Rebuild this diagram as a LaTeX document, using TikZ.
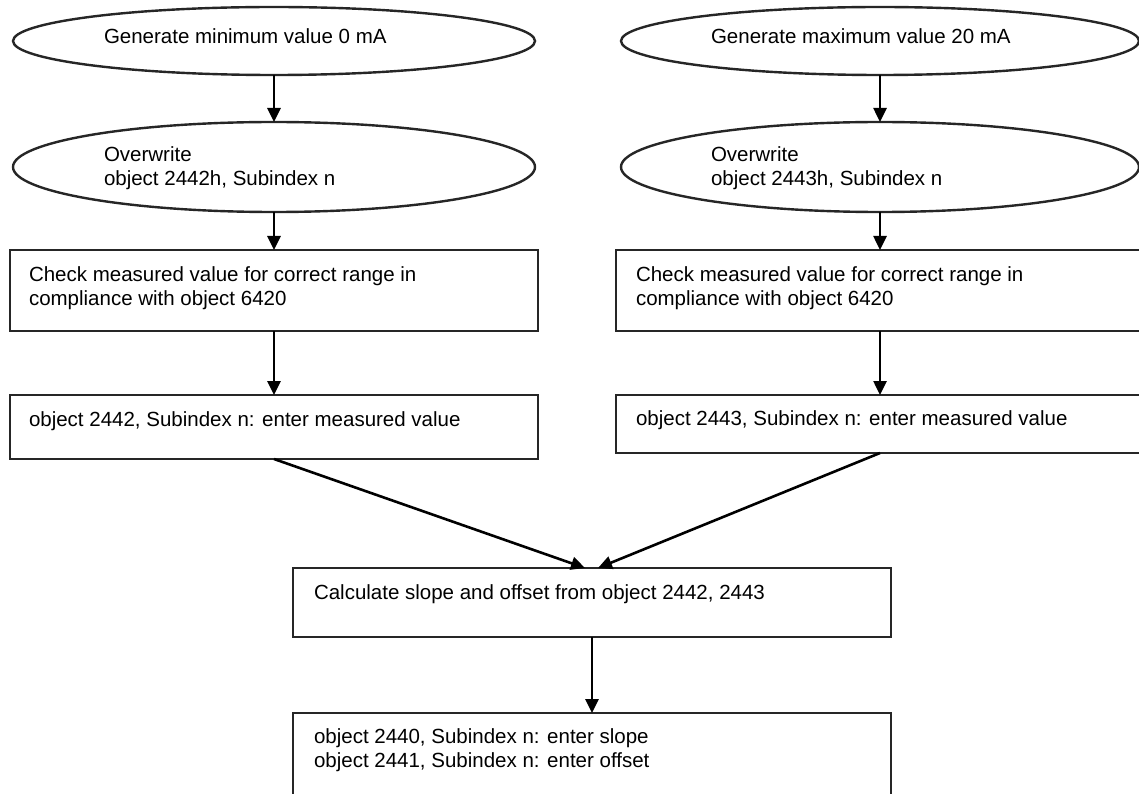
\documentclass[tikz,border=0pt]{standalone}
\usepackage{fontspec}
\setmainfont{Liberation Sans}
\usetikzlibrary{shapes.geometric,arrows.meta,calc}
\begin{document}
\begin{tikzpicture}[x=1pt,y=-1pt,
  shapebox/.style={draw=black!85,line width=2.4pt,rectangle,inner sep=0pt,outer sep=0pt},
  oval/.style={draw=black!85,line width=2.4pt,ellipse,inner sep=0pt,outer sep=0pt},
  txt/.style={inner sep=0pt,outer sep=0pt,anchor=base west,align=left,
    font=\fontsize{20.5}{24}\selectfont,text=black},
  flow/.style={line width=2.6pt,black,-{Triangle[length=14pt,width=13pt]}}]
\useasboundingbox (0,0) rectangle (1139,794);
\clip (0,0) rectangle (1139,794);
\fill[white] (0,0) rectangle (1139,794);
% left column
\node[oval,minimum width=522pt,minimum height=68pt] (e1) at (274,41) {};
\node[oval,minimum width=522pt,minimum height=90pt] (e2) at (274,167) {};
\node[shapebox,minimum width=528pt,minimum height=81pt] (r1) at (274,290.5) {};
\node[shapebox,minimum width=528pt,minimum height=64pt] (r2) at (274,427) {};
% right column
\node[oval,minimum width=518pt,minimum height=68pt] (e3) at (880,41) {};
\node[oval,minimum width=518pt,minimum height=90pt] (e4) at (880,167) {};
\node[shapebox,minimum width=528pt,minimum height=81pt] (r3) at (880,290.5) {};
\node[shapebox,minimum width=528pt,minimum height=58pt] (r4) at (880,424) {};
% bottom
\node[shapebox,minimum width=598pt,minimum height=69pt] (c) at (592,602.5) {};
\node[shapebox,minimum width=598pt,minimum height=117pt] (b) at (592,771.5) {};
% texts (base = baseline of last line)
\node[txt] (t1) at (104,44) {Generate minimum value 0 mA};
\node[txt] (t2) at (104,186) {Overwrite\\object 2442h, Subindex n};
\node[txt] (t3) at (29,305) {Check measured value for correct range in\\compliance with object 6420};
\node[txt] (t4) at (29,426) {object 2442, Subindex n: enter measured value};
\node[txt] (t5) at (711,44) {Generate maximum value 20 mA};
\node[txt] (t6) at (711,186) {Overwrite\\object 2443h, Subindex n};
\node[txt] (t7) at (636,305) {Check measured value for correct range in\\compliance with object 6420};
\node[txt] (t8) at (636,425) {object 2443, Subindex n: enter measured value};
\node[txt] (t9) at (314,599) {Calculate slope and offset from object 2442, 2443};
\node[txt] (t10) at (314,767) {object 2440, Subindex n: enter slope\\object 2441, Subindex n: enter offset};
% connectors
\draw[flow] (e1.south) -- (e2.north);
\draw[flow] (e2.south) -- (r1.north);
\draw[flow] (r1.south) -- (r2.north);
\draw[flow] (e3.south) -- (e4.north);
\draw[flow] (e4.south) -- (r3.north);
\draw[flow] (r3.south) -- (r4.north);
\draw[flow] (r2.south) -- ($(c.north)+(-7,0)$);
\draw[flow] (r4.south) -- ($(c.north)+(6,0)$);
\draw[flow] (c.south) -- (b.north);
\end{tikzpicture}
\end{document}
